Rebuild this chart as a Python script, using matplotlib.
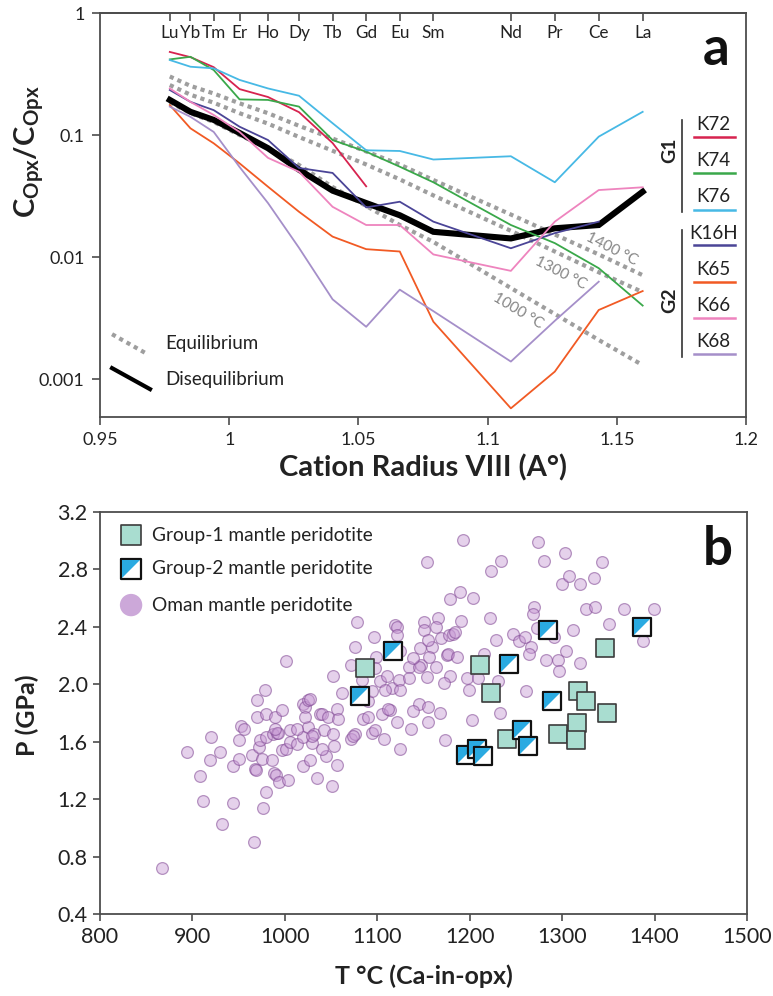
import matplotlib
matplotlib.use('Agg')
import matplotlib.pyplot as plt
import numpy as np
from matplotlib import transforms
from matplotlib.ticker import NullLocator

plt.rcParams['font.family'] = ['Lato', 'DejaVu Sans']
plt.rcParams['mathtext.fontset'] = 'custom'
plt.rcParams['mathtext.rm'] = 'Lato'
plt.rcParams['mathtext.bf'] = 'Lato:bold'

# REE and their VIII-fold ionic radii (A)
ree = ['Lu', 'Yb', 'Tm', 'Er', 'Ho', 'Dy', 'Tb', 'Gd', 'Eu', 'Sm', 'Nd', 'Pr', 'Ce', 'La']
radii = [0.977, 0.985, 0.994, 1.004, 1.015, 1.027, 1.040, 1.053, 1.066, 1.079, 1.109, 1.126, 1.143, 1.160]

# opx/opx partitioning per sample (Lu -> La, some stop early)
k72 = [0.48, 0.435, 0.36, 0.238, 0.205, 0.154, 0.086, 0.038]
k74 = [0.417, 0.438, 0.341, 0.196, 0.194, 0.171, 0.091, 0.073, 0.055, 0.041, 0.0183, 0.013, 0.0081, 0.004]
k76 = [0.412, 0.363, 0.352, 0.283, 0.241, 0.21, 0.125, 0.075, 0.074, 0.063, 0.067, 0.041, 0.097, 0.155]
k16h = [0.234, 0.187, 0.160, 0.117, 0.091, 0.0537, 0.0489, 0.0255, 0.0284, 0.0195, 0.0118, 0.0157, 0.0195]
k65 = [0.176, 0.1135, 0.0855, 0.0586, 0.0377, 0.0235, 0.0147, 0.0116, 0.0111, 0.00295, 0.000575, 0.00115, 0.00368, 0.00526]
k66 = [0.241, 0.187, 0.146, 0.106, 0.065, 0.050, 0.0258, 0.0183, 0.0183, 0.0105, 0.0077, 0.0195, 0.0354, 0.0373]
k68 = [0.171, 0.141, 0.106, 0.0547, 0.0277, 0.0119, 0.0045, 0.00268, 0.0054, 0.0036, 0.00139, 0.003, 0.00628]
diseq = [0.194, 0.155, 0.133, 0.104, 0.078, 0.052, 0.035, 0.0277, 0.022, 0.0161, 0.0142, 0.0172, 0.0183, 0.0343]

# equilibrium curves
eq1400 = [0.302, 0.253, 0.219, 0.182, 0.151, 0.119, 0.0936, 0.0734, 0.0573, 0.0428, 0.0223, 0.0153, 0.0105, 0.0071]
eq1300 = [0.257, 0.214, 0.184, 0.151, 0.124, 0.0964, 0.0743, 0.0574, 0.0433, 0.032, 0.0164, 0.0111, 0.0075, 0.00516]
eq1000 = [0.186, 0.151, 0.128, 0.1, 0.078, 0.0568, 0.0375, 0.0262, 0.0183, 0.0133, 0.00557, 0.00341, 0.00209, 0.0013]

# T (C) - P (GPa) data
g1_T = [1087, 1211, 1223, 1346, 1317, 1326, 1348, 1316, 1295, 1315, 1240]
g1_P = [2.11, 2.13, 1.94, 2.25, 1.95, 1.88, 1.80, 1.73, 1.65, 1.61, 1.62]
g2_T = [1081, 1117, 1285, 1386, 1242, 1289, 1256, 1263, 1196, 1208, 1214]
g2_P = [1.92, 2.23, 2.38, 2.40, 2.14, 1.88, 1.68, 1.57, 1.51, 1.55, 1.50]
oman_T = [867, 967, 932, 911, 944, 976, 980, 908, 919, 894, 944, 950, 968, 969, 988, 990, 994, 1003,
          1020, 1027, 1035, 1051, 1045, 1056, 930, 920, 964, 972, 975, 986, 997, 1001, 1006, 1013,
          1029, 1040, 1053, 1071, 1076, 1074, 1125, 1173, 950, 973, 953, 956, 980, 987, 991, 993,
          1006, 1020, 1025, 1031, 1029, 1042, 1052, 1013, 1094, 1098, 1107, 989, 970, 980, 989, 997,
          978, 970, 1001, 1020, 1022, 1025, 1027, 1022, 1038, 1040, 1047, 1056, 1058, 1062, 1085,
          1090, 1090, 1105, 1114, 1112, 1121, 1145, 1139, 1168, 1155, 1136, 1202, 1233, 1199, 1155,
          1052, 1076, 1071, 1078, 1096, 1099, 1098, 1083, 1103, 1116, 1134, 1147, 1145, 1164, 1179,
          1172, 1197, 1110, 1123, 1134, 1108, 1125, 1094, 1119, 1121, 1150, 1166, 1163, 1191, 1121,
          1150, 1169, 1178, 1182, 1184, 1146, 1159, 1156, 1175, 1177, 1186, 1228, 1247, 1222, 1193,
          1154, 1234, 1223, 1190, 1179, 1203, 1274, 1280, 1303, 1300, 1307, 1319, 1334, 1343, 1270,
          1268, 1326, 1336, 1367, 1399, 1387, 1351, 1312, 1273, 1291, 1253, 1260, 1266, 1264, 1282,
          1296, 1304, 1319, 1297, 1215, 1209, 1231, 1261, 1139, 1154, 1125, 1155]
oman_P = [0.72, 0.90, 1.03, 1.19, 1.17, 1.14, 1.25, 1.36, 1.47, 1.53, 1.43, 1.48, 1.41, 1.40, 1.38, 1.37, 1.32, 1.33,
          1.43, 1.47, 1.35, 1.29, 1.50, 1.44, 1.53, 1.63, 1.51, 1.56, 1.48, 1.47, 1.54, 1.55, 1.60, 1.58,
          1.59, 1.55, 1.57, 1.62, 1.65, 1.64, 1.55, 1.61, 1.61, 1.61, 1.71, 1.69, 1.63, 1.65, 1.66, 1.66,
          1.68, 1.63, 1.70, 1.65, 1.64, 1.68, 1.65, 1.69, 1.66, 1.68, 1.62, 1.69, 1.77, 1.79, 1.77, 1.82,
          1.96, 1.89, 2.16, 1.86, 1.84, 1.89, 1.90, 1.77, 1.79, 1.79, 1.77, 1.83, 1.76, 1.94, 1.76,
          1.77, 1.88, 1.79, 1.82, 1.83, 1.74, 1.86, 1.81, 1.80, 1.74, 1.69, 1.75, 1.80, 1.96, 1.84,
          2.06, 2.26, 2.13, 2.43, 2.33, 2.19, 2.11, 2.03, 2.02, 1.97, 2.12, 2.13, 2.12, 2.12, 2.06,
          2.01, 2.04, 2.06, 2.03, 2.04, 1.96, 1.96, 1.95, 2.41, 2.40, 2.43, 2.46, 2.40, 2.44, 2.34,
          2.38, 2.32, 2.34, 2.35, 2.36, 2.25, 2.26, 2.19, 2.20, 2.21, 2.19, 2.31, 2.35, 2.46, 3.00,
          2.85, 2.86, 2.79, 2.64, 2.59, 2.60, 2.99, 2.86, 2.91, 2.70, 2.75, 2.70, 2.74, 2.85, 2.54,
          2.49, 2.52, 2.54, 2.52, 2.52, 2.30, 2.42, 2.38, 2.39, 2.33, 2.30, 2.33, 2.26, 2.21, 2.17,
          2.17, 2.23, 2.15, 2.09, 2.21, 2.04, 2.02, 1.95, 2.18, 2.05, 2.23, 2.31]

spine_c = '#4d4d4d'
txt_c = '#222222'

fig = plt.figure(figsize=(7.73, 9.96), dpi=100)
ax1 = fig.add_axes([0.1294, 0.5813, 0.8357, 0.4056])
ax2 = fig.add_axes([0.1294, 0.0823, 0.837, 0.4039])

# ---------- (a) partitioning vs radius ----------
for eq in (eq1400, eq1300, eq1000):
    ax1.plot(radii, eq, color='#9e9e9e', lw=3.0, linestyle=(0, (1, 1)), dash_capstyle='butt', zorder=2)
ax1.plot(radii, diseq, color='black', lw=4.4, solid_joinstyle='miter', zorder=3)

samples = [('K72', k72, '#d7234f'), ('K74', k74, '#3aa84a'), ('K76', k76, '#47b9e5'),
           ('K16H', k16h, '#4b4597'), ('K65', k65, '#f15a24'), ('K66', k66, '#ee84be'),
           ('K68', k68, '#a58fc9')]
for name, vals, c in samples:
    ax1.plot(radii[:len(vals)], vals, color=c, lw=1.3, zorder=4)

ax1.set_yscale('log')
ax1.set_xlim(0.95, 1.2)
ax1.set_ylim(0.000488, 1)
ax1.set_xticks([0.95, 1.0, 1.05, 1.1, 1.15, 1.2])
ax1.set_xticklabels(['0.95', '1', '1.05', '1.1', '1.15', '1.2'])
ax1.set_yticks([0.001, 0.01, 0.1, 1])
ax1.set_yticklabels(['0.001', '0.01', '0.1', '1'])
ax1.yaxis.set_minor_locator(NullLocator())
ax1.tick_params(direction='out', length=6, width=1.2, color=spine_c, labelsize=13,
                labelcolor=txt_c, pad=5)

top = ax1.secondary_xaxis('top')
top.set_xticks(radii)
top.set_xticklabels([])
top.tick_params(direction='in', length=6, width=1.2, color=spine_c)
top.spines['top'].set_color(spine_c)
top.spines['top'].set_linewidth(1.3)

blend1 = transforms.blended_transform_factory(ax1.transData, ax1.transAxes)
for name, r in zip(ree, radii):
    ax1.text(r, 0.951, name, transform=blend1, ha='center', va='center', fontsize=12.3, color=txt_c)

ax1.set_xlabel('Cation Radius VIII (A°)', fontsize=21, fontweight='bold', color=txt_c)
ax1.xaxis.set_label_coords(0.5, -0.092)
ax1.set_ylabel(r'$\mathbf{C_{Opx}/C_{Opx}}$', fontsize=21, color=txt_c)
ax1.yaxis.set_label_coords(-0.083, 0.656)

# temperature tags on equilibrium curves
ax1.text(1.1481, 0.0117, '1400 °C', rotation=-27, color='#858585', fontsize=11, ha='center', va='center')
ax1.text(1.1284, 0.0074, '1300 °C', rotation=-27, color='#858585', fontsize=11, ha='center', va='center')
ax1.text(1.1118, 0.0036, '1000 °C', rotation=-31, color='#858585', fontsize=11, ha='center', va='center')

# line-style key, lower left
ax1.plot([0.0186, 0.073], [0.205, 0.156], transform=ax1.transAxes, color='#9e9e9e', lw=3.0,
         linestyle=(0, (1, 1)), dash_capstyle='butt')
ax1.text(0.101, 0.183, 'Equilibrium', transform=ax1.transAxes, fontsize=13.5, va='center', color=txt_c)
ax1.plot([0.0186, 0.0774], [0.121, 0.069], transform=ax1.transAxes, color='black', lw=3.0)
ax1.text(0.101, 0.092, 'Disequilibrium', transform=ax1.transAxes, fontsize=13.5, va='center', color=txt_c)

# sample key, right side
key_y = {'K72': (0.723, 0.693), 'K74': (0.636, 0.604), 'K76': (0.547, 0.512),
         'K16H': (0.455, 0.426), 'K65': (0.366, 0.334), 'K66': (0.275, 0.245), 'K68': (0.186, 0.156)}
for name, vals, c in samples:
    ty, ly = key_y[name]
    ax1.text(0.950, ty, name, transform=ax1.transAxes, ha='center', va='center', fontsize=13.5, color=txt_c)
    ax1.plot([0.919, 0.983], [ly, ly], transform=ax1.transAxes, color=c, lw=1.8)
ax1.plot([0.901, 0.901], [0.735, 0.507], transform=ax1.transAxes, color='#333333', lw=1.2)
ax1.plot([0.901, 0.901], [0.463, 0.149], transform=ax1.transAxes, color='#333333', lw=1.2)
ax1.text(0.882, 0.661, 'G1', transform=ax1.transAxes, rotation=90, ha='center', va='center',
         fontsize=14, fontweight='bold', color=txt_c)
ax1.text(0.882, 0.290, 'G2', transform=ax1.transAxes, rotation=90, ha='center', va='center',
         fontsize=14, fontweight='bold', color=txt_c)
ax1.text(0.9536, 0.911, 'a', transform=ax1.transAxes, ha='center', va='center', fontsize=38,
         fontweight='bold', color='#111111')

# ---------- (b) P-T ----------
oman_face = (0.78, 0.60, 0.83, 0.45)
oman_edge = (0.50, 0.28, 0.58, 0.55)
ax2.scatter(oman_T, oman_P, s=72, facecolor=oman_face, edgecolor=oman_edge, linewidth=0.9, zorder=2)
ax2.scatter(g1_T, g1_P, s=170, marker='s', facecolor='#a9ddd0', edgecolor='#3c3c3c', linewidth=1.2, zorder=3)
half = [(-1, -1), (-1, 1), (1, 1)]
for t, p in zip(g2_T, g2_P):
    ax2.scatter([t], [p], s=170, marker='s', facecolor='white', edgecolor='#111111', linewidth=1.6, zorder=4)
    ax2.scatter([t], [p], s=170, marker=half, facecolor='#2aaae1', edgecolor='#111111', linewidth=1.4, zorder=4)

ax2.set_xlim(800, 1500)
ax2.set_ylim(0.4, 3.2)
ax2.set_xticks(np.arange(800, 1501, 100))
ax2.set_yticks([0.4, 0.8, 1.2, 1.6, 2.0, 2.4, 2.8, 3.2])
ax2.set_yticklabels(['0.4', '0.8', '1.2', '1.6', '2.0', '2.4', '2.8', '3.2'])
ax2.tick_params(direction='out', length=5, width=1.2, color=spine_c, labelsize=15.5,
                labelcolor=txt_c, pad=4)
ax2.set_xlabel('T °C (Ca-in-opx)', fontsize=18, fontweight='bold', color=txt_c)
ax2.xaxis.set_label_coords(0.5, -0.125)
ax2.set_ylabel('P (GPa)', fontsize=18, fontweight='bold', color=txt_c)
ax2.yaxis.set_label_coords(-0.094, 0.495)

# marker key, upper left
ax2.scatter([0.048], [0.942], s=190, marker='s', facecolor='#a9ddd0', edgecolor='#3c3c3c', linewidth=1.2,
            transform=ax2.transAxes, clip_on=False, zorder=5)
ax2.scatter([0.048], [0.858], s=190, marker='s', facecolor='white', edgecolor='#111111', linewidth=1.6,
            transform=ax2.transAxes, clip_on=False, zorder=5)
ax2.scatter([0.048], [0.858], s=190, marker=half, facecolor='#2aaae1', edgecolor='#111111', linewidth=1.4,
            transform=ax2.transAxes, clip_on=False, zorder=5)
ax2.scatter([0.048], [0.768], s=260, facecolor=(0.80, 0.66, 0.85), edgecolor='none',
            transform=ax2.transAxes, clip_on=False, zorder=5)
for y, lab in [(0.942, 'Group-1 mantle peridotite'), (0.858, 'Group-2 mantle peridotite'),
               (0.768, 'Oman mantle peridotite')]:
    ax2.text(0.080, y, lab, transform=ax2.transAxes, fontsize=13.8, va='center', color=txt_c)
ax2.text(0.955, 0.907, 'b', transform=ax2.transAxes, ha='center', va='center', fontsize=38,
         fontweight='bold', color='#111111')

for ax in (ax1, ax2):
    for sp in ax.spines.values():
        sp.set_color(spine_c)
        sp.set_linewidth(1.3)

plt.savefig('out.png', dpi=100, facecolor='white')
